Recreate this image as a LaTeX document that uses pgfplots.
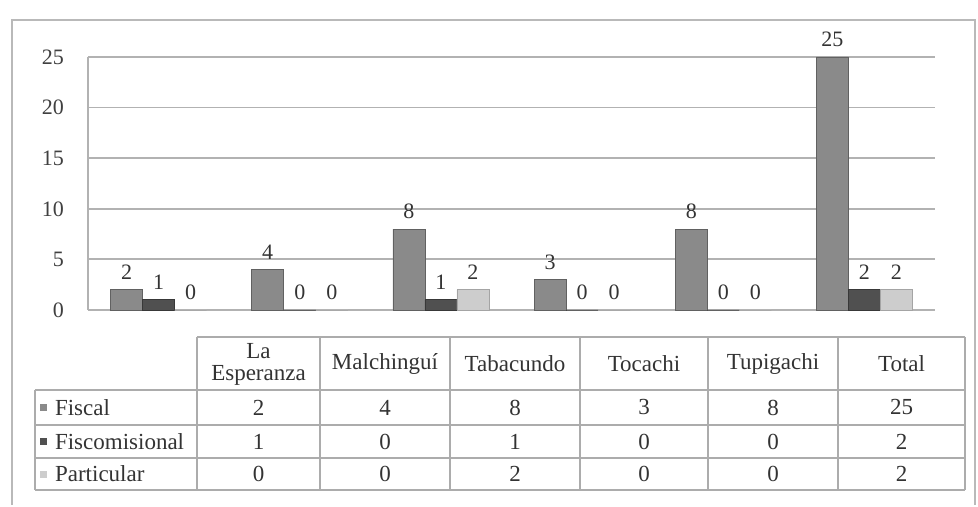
\documentclass[border=0pt]{standalone}
\usepackage{fontspec}
\setmainfont{Liberation Serif}
\usepackage{pgfplots}
\pgfplotsset{compat=1.18}
\definecolor{cFis}{HTML}{8A8A8A}
\definecolor{cFisco}{HTML}{505050}
\definecolor{cPart}{HTML}{CDCDCD}
\begin{document}
\begin{tikzpicture}
\fontsize{11.5}{13}\selectfont
% invisible page extent
\path (0,0) rectangle (489pt,253.5pt);
\begin{axis}[
  at={(44pt,98.5pt)}, anchor=south west,
  scale only axis, width=423.5pt, height=126.5pt,
  ybar=0pt, bar width=16pt,
  xmin=-0.5, xmax=5.5, ymin=0, ymax=25,
  ytick={0,5,10,15,20,25}, xtick=\empty,
  ymajorgrids, grid style={gray!60, line width=0.9pt},
  axis x line*=bottom, axis y line*=left,
  axis line style={gray!60, line width=0.9pt},
  ytick style={draw=none},
  yticklabel style={xshift=-8pt, text=black!75},
  /pgf/number format/assume math mode=true,
  tick label style={font=\fontsize{11}{12}\selectfont},
  nodes near coords,
  nodes near coords style={font=\fontsize{11}{12}\selectfont, text=black!80, yshift=1pt},
  clip=false,
]
\addplot[fill=cFis, draw=cFis!70!black] coordinates {(0,2) (1,4) (2,8) (3,3) (4,8) (5,25)};
\addplot[fill=cFisco, draw=cFisco!70!black] coordinates {(0,1) (1,0) (2,1) (3,0) (4,0) (5,2)};
\addplot[fill=cPart, draw=cPart!80!black] coordinates {(0,0) (1,0) (2,2) (3,0) (4,0) (5,2)};
\end{axis}
\begin{scope}[x=0.5pt, y=-0.5pt, shift={(0pt,253.5pt)}]
  % outer frame
  \draw[gray!55, line width=1pt] (12,505) -- (12,20) -- (975,20) -- (975,505);
  % table lines
  \begin{scope}[gray!65, line width=0.9pt]
    \draw (197,337) -- (965,337);
    \foreach \yy in {390,425,458,490} \draw (35,\yy) -- (965,\yy);
    \draw (35,390) -- (35,490);
    \foreach \xx in {197,320,450,580,708,838,965} \draw (\xx,337) -- (\xx,490);
  \end{scope}
  % headers
  \node[align=center, text=black!80, font=\fontsize{11.5}{11}\selectfont] at (258.5,364) {La\\Esperanza};
  \node[text=black!80] at (385,364) {Malchinguí};
  \node[text=black!80] at (515,364) {Tabacundo};
  \node[text=black!80] at (644,364) {Tocachi};
  \node[text=black!80] at (773,364) {Tupigachi};
  \node[text=black!80] at (901.5,364) {Total};
  % row labels with keys
  \fill[cFis] (40,404) rectangle (47,411);
  \node[anchor=west, text=black!80] at (47,407.5) {Fiscal};
  \fill[cFisco] (40,438) rectangle (47,445);
  \node[anchor=west, text=black!80] at (47,441.5) {Fiscomisional};
  \fill[cPart] (40,471) rectangle (47,478);
  \node[anchor=west, text=black!80] at (47,474) {Particular};
  % values
  \foreach \v [count=\i from 0] in {2,4,8,3,8,25} {
    \pgfmathsetmacro{\cx}{{258.5,385,515,644,773,901.5}[\i]}
    \node[text=black!80] at (\cx,407.5) {\v};
  }
  \foreach \v [count=\i from 0] in {1,0,1,0,0,2} {
    \pgfmathsetmacro{\cx}{{258.5,385,515,644,773,901.5}[\i]}
    \node[text=black!80] at (\cx,441.5) {\v};
  }
  \foreach \v [count=\i from 0] in {0,0,2,0,0,2} {
    \pgfmathsetmacro{\cx}{{258.5,385,515,644,773,901.5}[\i]}
    \node[text=black!80] at (\cx,474) {\v};
  }
\end{scope}
\end{tikzpicture}
\end{document}
